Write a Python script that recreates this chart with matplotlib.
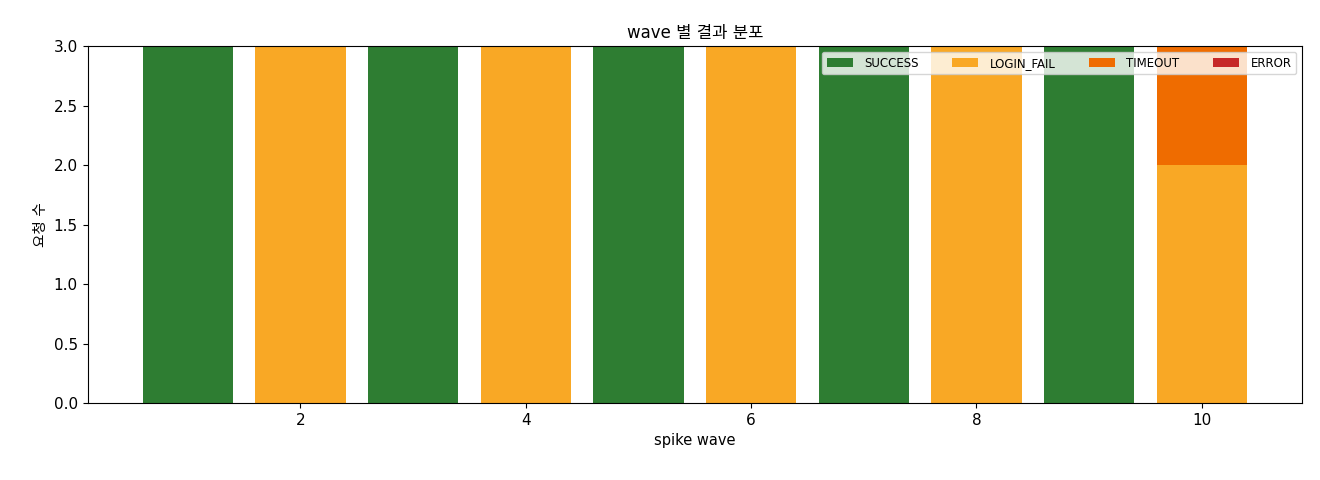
import numpy as np
import matplotlib
matplotlib.use("Agg")
import matplotlib.pyplot as plt

plt.rcParams["font.family"] = ["DejaVu Sans", "Noto Sans CJK KR"]

waves = [1, 2, 3, 4, 5, 6, 7, 8, 9, 10]
success = [3, 0, 3, 0, 3, 0, 3, 0, 3, 0]
login_fail = [0, 3, 0, 3, 0, 3, 0, 3, 0, 2]
timeout = [0, 0, 0, 0, 0, 0, 0, 0, 0, 1]
error = [0, 0, 0, 0, 0, 0, 0, 0, 0, 0]

series = [
    ("SUCCESS", success, "#2e7d32"),
    ("LOGIN_FAIL", login_fail, "#f9a825"),
    ("TIMEOUT", timeout, "#ef6c00"),
    ("ERROR", error, "#c62828"),
]

fig, ax = plt.subplots(figsize=(13.2, 4.8), dpi=100)
fig.subplots_adjust(left=0.0663, right=0.9864, top=0.904, bottom=0.160)

bottom = np.zeros(len(waves))
for name, vals, color in series:
    ax.bar(waves, vals, bottom=bottom, color=color, label=name, width=0.8)
    bottom += np.array(vals)

ax.set_ylim(0, 3)
ax.set_title("wave 별 결과 분포", fontsize=12)
ax.set_xlabel("spike wave", fontsize=10.5)
ax.set_ylabel("요청 수", fontsize=10.5)
ax.tick_params(labelsize=11)
ax.legend(loc="upper right", ncol=4, fontsize=8.5, columnspacing=2.8,
          handlelength=2.2, handletextpad=1.0)

fig.savefig("out.png", dpi=100)
